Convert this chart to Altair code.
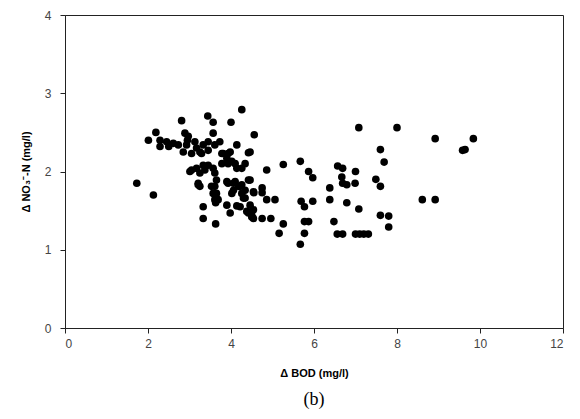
import altair as alt
import pandas as pd

bod = [
    1.73, 2.13, 2.01, 2.19, 2.29, 2.45, 2.29, 2.61, 2.73, 2.50,
    2.81, 2.89, 2.97, 2.85, 2.93, 2.95, 3.13, 3.17, 3.25, 3.33,
    3.44, 3.57, 4.00, 4.26, 3.45, 3.57, 3.61, 3.73, 4.14, 4.42,
    4.56, 3.81, 3.98, 3.90, 4.02, 4.14, 4.26, 4.34, 3.01, 3.17,
    3.33, 3.45, 3.57, 3.05, 3.29, 3.45, 3.78, 3.93, 3.78, 3.93,
    4.10, 3.05, 3.25, 3.37, 3.61, 3.65, 3.53, 3.57, 3.21, 3.25,
    3.21, 3.61, 3.65, 3.69, 3.61, 3.90, 4.06, 4.22, 4.34, 4.06,
    3.93, 4.10, 4.18, 4.26, 4.02, 4.26, 4.42, 4.54, 4.30, 4.34,
    3.33, 3.63, 3.90, 4.14, 4.22, 4.46, 3.98, 4.42, 4.50, 4.54,
    4.38, 3.33, 3.63, 4.46, 4.46,
    4.55, 4.75, 4.75, 4.54, 4.50, 4.75, 4.96, 4.86, 5.26, 4.86,
    5.06, 5.16, 5.26, 5.67, 5.87, 5.97, 5.69, 5.77, 5.97, 5.77,
    5.87, 5.77, 5.67, 6.38, 6.38, 6.48, 6.56, 6.69, 6.79, 6.57,
    6.69, 6.67, 6.69, 6.79, 7.00, 6.99, 7.08, 7.08, 7.00, 7.10,
    7.20, 7.31, 7.49, 7.60, 7.60, 7.69, 7.60, 7.80, 7.80, 8.00,
    8.61, 8.92, 8.92, 9.84, 9.64, 9.58,
]
no3 = [
    1.85, 1.70, 2.40, 2.50, 2.40, 2.38, 2.32, 2.36, 2.34, 2.32,
    2.65, 2.49, 2.45, 2.25, 2.34, 2.40, 2.38, 2.30, 2.25, 2.34,
    2.71, 2.63, 2.63, 2.79, 2.38, 2.49, 2.34, 2.38, 2.34, 2.24,
    2.47, 2.23, 2.25, 2.17, 2.13, 2.04, 2.04, 2.10, 2.00, 2.04,
    2.08, 2.08, 2.04, 2.23, 2.23, 2.27, 2.23, 2.23, 2.10, 2.10,
    2.10, 2.02, 1.98, 2.02, 1.98, 1.89, 1.81, 1.72, 1.85, 1.81,
    1.83, 1.81, 1.72, 1.64, 1.64, 1.87, 1.85, 1.81, 1.76, 1.76,
    1.85, 1.87, 1.81, 1.83, 1.72, 1.72, 1.89, 1.74, 1.66, 1.66,
    1.55, 1.60, 1.57, 1.56, 1.55, 1.57, 1.47, 1.47, 1.42, 1.40,
    1.49, 1.40, 1.33, 2.25, 1.89,
    1.73, 1.79, 1.73, 1.51, 1.44, 1.40, 1.40, 2.02, 2.09, 1.64,
    1.64, 1.21, 1.33, 2.13, 2.00, 1.92, 1.62, 1.55, 1.62, 1.36,
    1.36, 1.21, 1.07, 1.79, 1.64, 1.36, 1.20, 1.20, 1.60, 2.07,
    2.04, 1.93, 1.85, 1.83, 2.00, 1.85, 1.52, 2.56, 1.20, 1.20,
    1.20, 1.20, 1.90, 1.81, 2.28, 2.12, 1.44, 1.43, 1.29, 2.56,
    1.64, 1.64, 2.42, 2.42, 2.28, 2.27,
]

x_ticks = [0, 2, 4, 6, 8, 10, 12]
y_ticks = [0, 1, 2, 3, 4]

df = pd.DataFrame({"bod": bod, "no3": no3})

chart = (
    alt.Chart(df)
    .mark_circle(color="black", opacity=1, size=58)
    .encode(
        x=alt.X(
            "bod:Q",
            scale=alt.Scale(domain=[0, 12], nice=False, zero=True),
            axis=alt.Axis(
                values=x_ticks,
                title="Δ BOD (mg/l)",
                titleFontWeight="bold",
                titleFontSize=11,
                titleFont="Liberation Sans",
                titlePadding=18,
                labelPadding=5,
            ),
        ),
        y=alt.Y(
            "no3:Q",
            scale=alt.Scale(domain=[0, 4], nice=False),
            axis=alt.Axis(
                values=y_ticks,
                title="Δ NO₃⁻-N (mg/l)",
                titleFontWeight="bold",
                titleFontSize=11,
                titleFont="Liberation Sans",
                titlePadding=13,
                labelPadding=9,
            ),
        ),
    )
    .properties(
        width=498,
        height=313,
        autosize=alt.AutoSizeParams(type="none"),
        padding={"left": 57, "top": 7, "right": 9, "bottom": 83},
        title=alt.TitleParams(
            "(b)",
            orient="bottom",
            font="Liberation Serif",
            fontSize=18,
            fontWeight="normal",
            color="black",
            offset=13,
        ),
    )
    .configure_view(stroke="#222", strokeWidth=1)
    .configure_axis(
        grid=False,
        domainColor="#222",
        tickColor="#222",
        tickSize=5,
        labelFont="Liberation Sans",
        labelFontSize=12,
        labelColor="#444",
        titleColor="black",
    )
)

chart.save("out.html", embed_options={"renderer": "svg", "actions": False})
